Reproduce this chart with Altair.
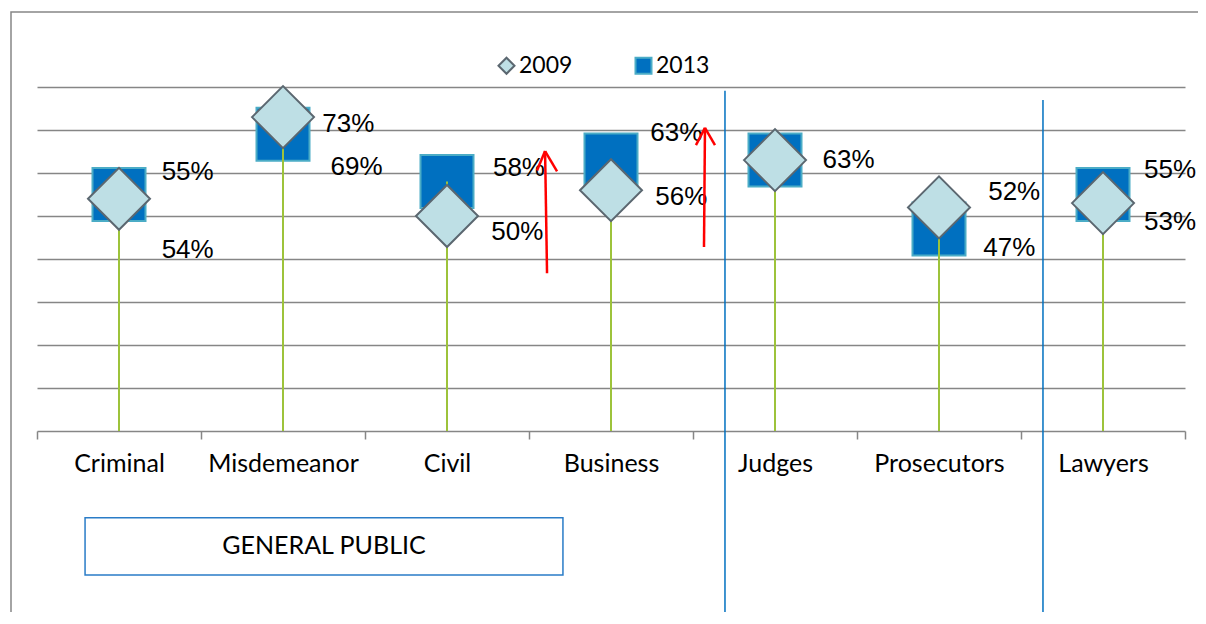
import json
import altair as alt
import pandas as pd

# ---------------- data ----------------
categories = ["Criminal", "Misdemeanor", "Civil", "Business", "Judges", "Prosecutors", "Lawyers"]
values_2009 = [0.54, 0.73, 0.50, 0.56, 0.63, 0.52, 0.53]
values_2013 = [0.55, 0.69, 0.58, 0.63, 0.63, 0.47, 0.55]
legend_years = ["2009", "2013"]

# ---------------- layout of annotations (category units / value units) ----------------
label_x_2009 = [0.76, 1.74, 2.77, 3.77, None, 5.80, 6.75]
label_y_2009 = [0.421, 0.714, 0.463, 0.544, None, 0.556, 0.486]
label_x_2013 = [0.76, 1.79, 2.78, 3.74, 4.79, 5.77, 6.75]
label_y_2013 = [0.602, 0.614, 0.612, 0.693, 0.630, 0.426, 0.607]

divider_x = [4.195, 6.134]
divider_top = [0.791, 0.770]
divider_bottom = [-0.6, -0.6]

box_label = "GENERAL PUBLIC"
box_x = [0.293, 3.207]
box_y = [-0.202, -0.335]

arrow_x1 = [3.110, 3.098, 3.098, 4.067, 4.073, 4.073]
arrow_y1 = [0.367, 0.651, 0.651, 0.428, 0.705, 0.705]
arrow_x2 = [3.098, 3.049, 3.171, 4.073, 4.018, 4.134]
arrow_y2 = [0.651, 0.606, 0.604, 0.705, 0.665, 0.665]

# ---------------- tables ----------------
pos = [i + 0.5 for i in range(len(categories))]
df = pd.DataFrame({
    "category": categories,
    "pos": pos,
    "v2009": values_2009,
    "v2013": values_2013,
    "top": [max(a, b) for a, b in zip(values_2009, values_2013)],
})
sq = pd.DataFrame({"pos": pos, "value": values_2013, "year": "2013"})
dm = pd.DataFrame({"pos": pos, "value": values_2009, "year": "2009"})

lab_rows = []
for i in range(len(categories)):
    if label_x_2013[i] is not None:
        lab_rows.append({"lx": label_x_2013[i], "ly": label_y_2013[i],
                         "text": f"{round(values_2013[i] * 100)}%"})
    if label_x_2009[i] is not None:
        lab_rows.append({"lx": label_x_2009[i], "ly": label_y_2009[i],
                         "text": f"{round(values_2009[i] * 100)}%"})
labels = pd.DataFrame(lab_rows)

dividers = pd.DataFrame({"x": divider_x, "y": divider_top, "y2": divider_bottom})
arrows = pd.DataFrame({"x": arrow_x1, "y": arrow_y1, "x2": arrow_x2, "y2": arrow_y2})
box = pd.DataFrame({"x": [box_x[0]], "x2": [box_x[1]], "y": [box_y[0]], "y2": [box_y[1]],
                    "tx": [(box_x[0] + box_x[1]) / 2], "ty": [(box_y[0] + box_y[1]) / 2],
                    "text": [box_label]})

# ---------------- scales / axes ----------------
GRAY = "#868686"
xs = alt.Scale(domain=[0, len(categories)], nice=False, zero=False)
ys = alt.Scale(domain=[0, 0.8], nice=False)

label_expr = ("datum.value % 1 == 0.5 ? " + json.dumps(categories) +
              "[floor(datum.value)] : ''")
xaxis = alt.Axis(
    values=[i * 0.5 for i in range(2 * len(categories) + 1)],
    labelExpr=label_expr, title=None, grid=False,
    tickOpacity={"condition": {"test": "datum.value % 1 == 0", "value": 1}, "value": 0},
    tickSize=8, tickColor=GRAY, tickWidth=1.5,
    domainColor=GRAY, domainWidth=1.5,
    labelFont="Lato", labelFontSize=25, labelColor="#000000",
    labelPadding=12, labelOverlap=False, labelFlush=False, labelBound=False,
)
yaxis = alt.Axis(values=[0.1 * k for k in range(1, 9)], labels=False, ticks=False,
                 domain=False, grid=True, gridColor=GRAY, gridWidth=1.5, title=None)

X = lambda f: alt.X(f, type="quantitative", scale=xs, axis=xaxis)
Y = lambda f: alt.Y(f, type="quantitative", scale=ys, axis=yaxis)

fill_enc = alt.Fill("year:N", scale=alt.Scale(domain=legend_years, range=["#BEDFE5", "#0070C0"]),
                    legend=alt.Legend(title=None, orient="none", direction="horizontal",
                                      legendX=458, legendY=-33, symbolSize=256,
                                      labelFont="Lato", labelFontSize=23, labelColor="#000000",
                                      labelOffset=1, columnPadding=58, symbolStrokeWidth=2))
stroke_enc = alt.Stroke("year:N", scale=alt.Scale(domain=legend_years, range=["#5B6770", "#4BACC6"]))
shape_enc = alt.Shape("year:N", scale=alt.Scale(domain=legend_years, range=["diamond", "square"]))

# ---------------- layers ----------------
frame = alt.Chart(pd.DataFrame({"a": [0]})).mark_rect(
    fill=None, stroke=GRAY, strokeWidth=1.5, clip=False
).encode(x=alt.value(-26), x2=alt.value(1400), y=alt.value(-75), y2=alt.value(800))

squares = alt.Chart(sq).mark_point(filled=True, size=2809, strokeWidth=2, opacity=1).encode(
    x=X("pos"), y=Y("value"), fill=fill_enc, stroke=stroke_enc, shape=shape_enc)

stems = alt.Chart(df).mark_rule(color="#9DC33B", strokeWidth=2).encode(
    x=X("pos"), y=Y("top"), y2=alt.datum(0))

diamonds = alt.Chart(dm).mark_point(filled=True, size=3844, strokeWidth=2, opacity=1).encode(
    x=X("pos"), y=Y("value"), fill=fill_enc, stroke=stroke_enc, shape=shape_enc)

texts = alt.Chart(labels).mark_text(
    font="Liberation Sans", fontSize=26, align="left", baseline="middle", color="#000000", clip=False
).encode(x=X("lx"), y=Y("ly"), text="text:N")

div_lines = alt.Chart(dividers).mark_rule(color="#0070C0", strokeWidth=1.5, clip=False).encode(
    x=X("x"), y=Y("y"), y2="y2")

arrow_lines = alt.Chart(arrows).mark_rule(color="#FF0000", strokeWidth=2.5, clip=False).encode(
    x=X("x"), y=Y("y"), x2="x2", y2="y2")

box_rect = alt.Chart(box).mark_rect(fill=None, stroke="#2A7CC7", strokeWidth=1.5, clip=False).encode(
    x=X("x"), x2="x2", y=Y("y"), y2="y2")
box_text = alt.Chart(box).mark_text(font="Lato", fontSize=25, color="#000000",
                                    align="center", baseline="middle", clip=False).encode(
    x=X("tx"), y=Y("ty"), text="text:N")

chart = alt.layer(
    frame, squares, stems, diamonds, texts, div_lines, arrow_lines, box_rect, box_text
).properties(
    width=1148, height=344,
    background="#FFFFFF",
    autosize=alt.AutoSizeParams(type="none"),
    padding={"left": 29, "top": 79, "right": 13, "bottom": 181},
).configure_view(stroke=None)

chart.save("out.html", embed_options={"renderer": "svg", "actions": False})
